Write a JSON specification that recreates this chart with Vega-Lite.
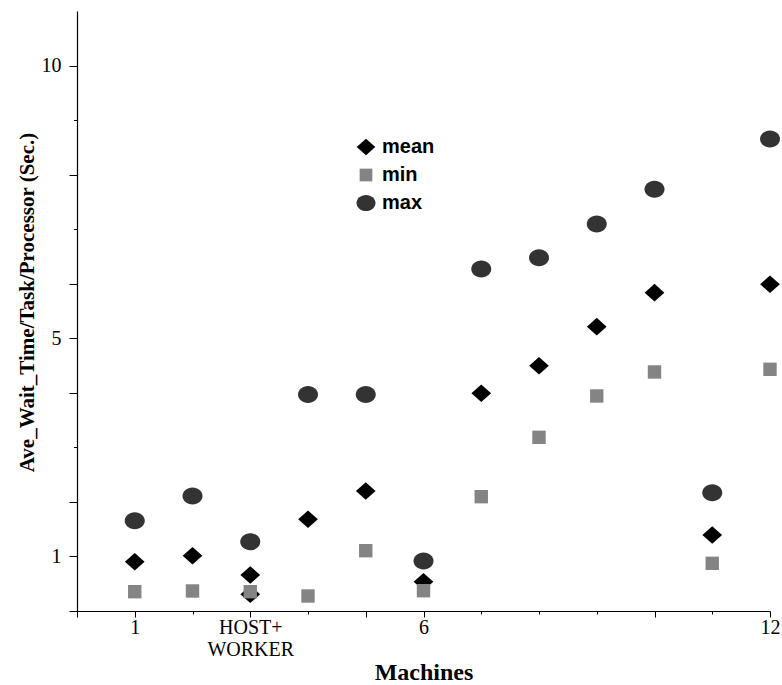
{
  "$schema": "https://vega.github.io/schema/vega-lite/v6.json",
  "width": 693,
  "height": 600,
  "autosize": {"type": "none"},
  "padding": {"left": 77, "top": 11, "right": 12, "bottom": 74},
  "background": "white",
  "config": {
    "view": {"stroke": null},
    "axis": {"grid": false, "domainColor": "#000000", "tickColor": "#000000", "labelColor": "#000000", "titleColor": "#000000", "domainWidth": 1.2, "tickWidth": 1}
  },
  "data": {
    "values": [
      {"machines": 1, "wait": 0.904, "stat": "mean"},
      {"machines": 2, "wait": 1.014, "stat": "mean"},
      {"machines": 3, "wait": 0.66, "stat": "mean"},
      {"machines": 3, "wait": 0.306, "stat": "mean"},
      {"machines": 4, "wait": 1.681, "stat": "mean"},
      {"machines": 5, "wait": 2.2, "stat": "mean"},
      {"machines": 6, "wait": 0.537, "stat": "mean"},
      {"machines": 7, "wait": 3.991, "stat": "mean"},
      {"machines": 8, "wait": 4.497, "stat": "mean"},
      {"machines": 9, "wait": 5.213, "stat": "mean"},
      {"machines": 10, "wait": 5.836, "stat": "mean"},
      {"machines": 11, "wait": 1.393, "stat": "mean"},
      {"machines": 12, "wait": 5.99, "stat": "mean"},
      {"machines": 1, "wait": 1.655, "stat": "max"},
      {"machines": 2, "wait": 2.108, "stat": "max"},
      {"machines": 3, "wait": 1.27, "stat": "max"},
      {"machines": 4, "wait": 3.97, "stat": "max"},
      {"machines": 5, "wait": 3.97, "stat": "max"},
      {"machines": 6, "wait": 0.917, "stat": "max"},
      {"machines": 7, "wait": 6.27, "stat": "max"},
      {"machines": 8, "wait": 6.477, "stat": "max"},
      {"machines": 9, "wait": 7.095, "stat": "max"},
      {"machines": 10, "wait": 7.731, "stat": "max"},
      {"machines": 11, "wait": 2.169, "stat": "max"},
      {"machines": 12, "wait": 8.653, "stat": "max"},
      {"machines": 1, "wait": 0.354, "stat": "min"},
      {"machines": 2, "wait": 0.367, "stat": "min"},
      {"machines": 3, "wait": 0.354, "stat": "min"},
      {"machines": 4, "wait": 0.275, "stat": "min"},
      {"machines": 5, "wait": 1.106, "stat": "min"},
      {"machines": 6, "wait": 0.372, "stat": "min"},
      {"machines": 7, "wait": 2.096, "stat": "min"},
      {"machines": 8, "wait": 3.184, "stat": "min"},
      {"machines": 9, "wait": 3.942, "stat": "min"},
      {"machines": 10, "wait": 4.382, "stat": "min"},
      {"machines": 11, "wait": 0.874, "stat": "min"},
      {"machines": 12, "wait": 4.431, "stat": "min"}
    ]
  },
  "mark": {"type": "point", "filled": true, "opacity": 1, "strokeWidth": 0, "size": 400},
  "encoding": {
    "x": {
      "field": "machines",
      "type": "quantitative",
      "scale": {"domain": [0, 12], "nice": false, "zero": false},
      "axis": {
        "values": [0, 1, 2, 3, 4, 5, 6, 7, 8, 9, 10, 11, 12],
        "title": "Machines",
        "labelExpr": "datum.value == 3 ? ['HOST+', 'WORKER'] : ((datum.value == 1 || datum.value == 6 || datum.value == 12) ? datum.label : '')",
        "labelFont": "Liberation Serif",
        "labelFontSize": 20,
        "labelLineHeight": 22,
        "labelPadding": 0,
        "labelFlush": false,
        "labelOverlap": false,
        "tickSize": {"condition": {"test": "indexof([2, 4, 7, 8, 9, 11], datum.value) >= 0", "value": 3}, "value": 6},
        "titleFont": "Liberation Serif",
        "titleFontSize": 24,
        "titleFontWeight": "bold",
        "titlePadding": 1
      }
    },
    "y": {
      "field": "wait",
      "type": "quantitative",
      "scale": {"domain": [0, 11], "nice": false},
      "axis": {
        "values": [0, 1, 2, 3, 4, 5, 6, 7, 8, 9, 10],
        "title": "Ave_Wait_Time/Task/Processor (Sec.)",
        "labelExpr": "indexof([1, 5, 10], datum.value) >= 0 ? datum.label : ''",
        "labelFont": "Liberation Serif",
        "labelFontSize": 20,
        "labelPadding": 8,
        "labelOverlap": false,
        "labelFlush": false,
        "tickSize": {"condition": {"test": "indexof([3, 7, 9], datum.value) >= 0", "value": 3.5}, "value": 8},
        "titleFont": "Liberation Serif",
        "titleFontSize": 21,
        "titleFontWeight": "bold",
        "titlePadding": 4,
        "titleY": 291
      }
    },
    "color": {
      "field": "stat",
      "type": "nominal",
      "scale": {"domain": ["mean", "min", "max"], "range": ["#000000", "#848484", "#333333"]},
      "legend": {
        "orient": "none",
        "legendX": 279,
        "legendY": 126,
        "title": null,
        "labelFont": "Liberation Sans",
        "labelFontSize": 20,
        "labelFontWeight": "bold",
        "labelColor": "#000000",
        "labelOffset": 6,
        "rowPadding": 8,
        "padding": 0,
        "symbolSize": 360,
        "symbolStrokeWidth": 0,
        "symbolOpacity": 1
      }
    },
    "shape": {
      "field": "stat",
      "type": "nominal",
      "scale": {
        "domain": ["mean", "min", "max"],
        "range": [
          "M-0.985,0L0,-0.88L0.985,0L0,0.88Z",
          "M-0.67,-0.67L0.67,-0.67L0.67,0.67L-0.67,0.67Z",
          "M-1,0C-1,-0.4694,-0.5523,-0.85,0,-0.85C0.5523,-0.85,1,-0.4694,1,0C1,0.4694,0.5523,0.85,0,0.85C-0.5523,0.85,-1,0.4694,-1,0Z"
        ]
      }
    }
  }
}
